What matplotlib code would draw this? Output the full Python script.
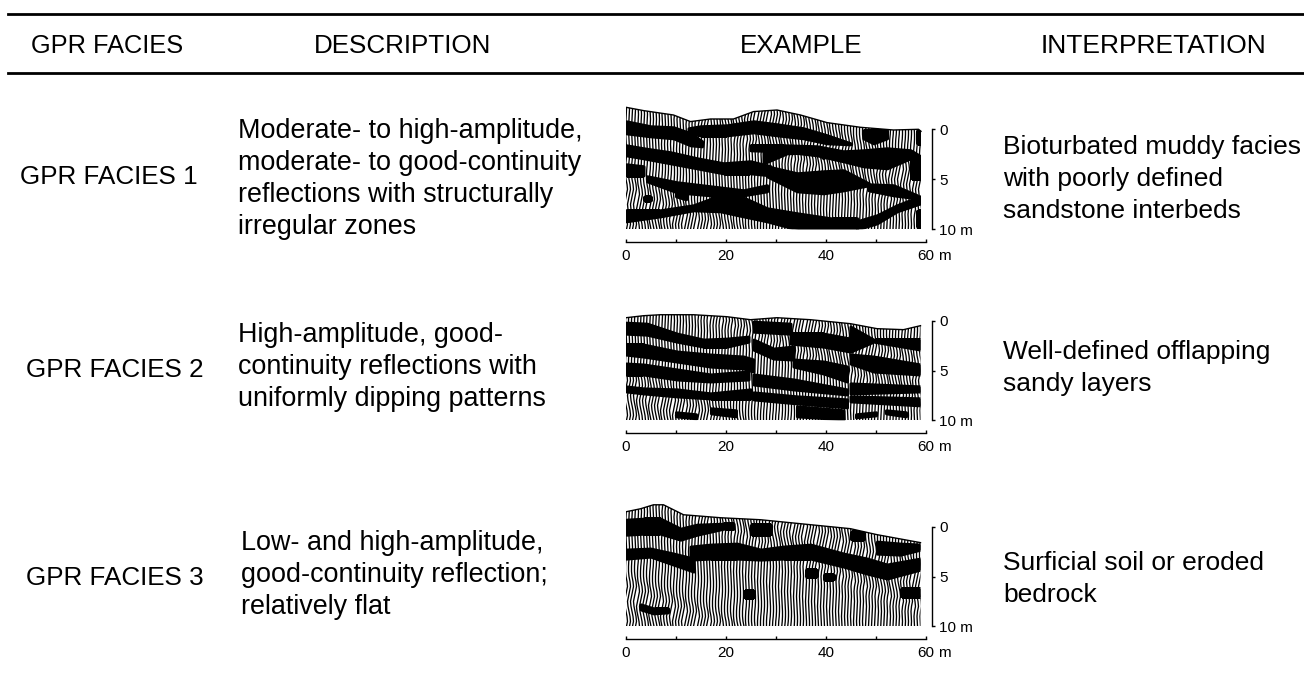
import numpy as np
import matplotlib
matplotlib.use('Agg')
import matplotlib.pyplot as plt
from matplotlib.collections import LineCollection

plt.rcParams['font.family'] = ['Liberation Sans', 'DejaVu Sans']

headers = ['GPR FACIES', 'DESCRIPTION', 'EXAMPLE', 'INTERPRETATION']
facies = ['GPR FACIES 1', 'GPR FACIES 2', 'GPR FACIES 3']
descriptions = [
    ['Moderate- to high-amplitude,', 'moderate- to good-continuity', 'reflections with structurally', 'irregular zones'],
    ['High-amplitude, good-', 'continuity reflections with', 'uniformly dipping patterns'],
    ['Low- and high-amplitude,', 'good-continuity reflection;', 'relatively flat'],
]
interpretations = [
    ['Bioturbated muddy facies', 'with poorly defined', 'sandstone interbeds'],
    ['Well-defined offlapping', 'sandy layers'],
    ['Surficial soil or eroded', 'bedrock'],
]

# ground surface of each section: distance (m), depth (m)
surface_x_1 = [0, 3.5, 9.5, 12.9, 16.9, 21.5, 25.5, 30.2, 34.9, 40.2, 46.9, 53.5, 58.5, 59]
surface_d_1 = [-2.2, -1.87, -1.43, -0.77, -1.03, -1.03, -1.77, -1.93, -1.43, -0.67, -0.2, 0.07, 0, 0.2]
surface_x_2 = [0, 3.5, 6.9, 13.5, 20.2, 24.9, 30.2, 36.9, 44.9, 50.2, 55.5, 58.9]
surface_d_2 = [-0.3, -0.5, -0.6, -0.6, -0.4, -0.1, -0.3, -0.1, 0.3, 0.8, 0.9, 0.5]
surface_x_3 = [0, 2.9, 5.5, 7.5, 11.5, 18.9, 26.9, 36.9, 44.9, 50.2, 58.9]
surface_d_3 = [-1.5, -1.8, -2.2, -2.2, -1.2, -0.9, -0.7, -0.2, 0.2, 0.8, 1.6]

# dark reflections: (distance, top depth, bottom depth)
bands_1 = [
    ([0, 4.9, 9.5, 12.9, 15.2], [-0.8, -0.3, -0.2, 0.4, 1.2], [0.4, 0.7, 0.9, 1.6, 1.7]),
    ([12.5, 14.9, 20.2, 25.5, 30.2, 35.5, 40.2, 44.9], [-0.1, -0.3, -0.4, -0.8, -0.5, -0.1, 0.6, 1.4], [0.4, 0.6, 0.6, 0.3, 0.6, 0.9, 1.4, 1.5]),
    ([0, 3.5, 8.9, 14.2, 19.5, 24.9, 28.9], [1.6, 1.9, 2.3, 2.9, 3.4, 3.2, 3.7], [2.6, 2.9, 3.4, 3.9, 4.4, 4.4, 4.6]),
    ([28.2, 34.2, 39.5, 43.5, 48.5], [3.7, 4.4, 4.2, 4.1, 5.4], [4.7, 6.2, 6.4, 6.1, 5.6]),
    ([27.5, 32.2, 38.2, 39.5], [1.9, 2.1, 2.1, 2.6], [3.4, 2.4, 2.3, 2.9]),
    ([24.9, 31.5, 38.2, 43.5, 47.5, 52.2, 56.9, 58.9], [1.6, 1.6, 1.7, 2.2, 2.1, 1.9, 2.1, 2.7], [2.1, 2.2, 2.6, 3.2, 3.7, 3.9, 2.9, 4.9]),
    ([47.5, 49.5, 52.2], [0.1, 0.1, 0.1], [0.9, 1.4, 0.9]),
    ([0, 3.5], [3.5, 3.7], [4.6, 4.6]),
    ([4.2, 10.2, 16.9, 23.5, 28.2], [4.7, 5.3, 5.7, 6.1, 5.6], [5.2, 6.3, 6.6, 6.6, 6.2]),
    ([48.5, 53.5, 58.2], [5.5, 5.6, 6.6], [6.1, 6.6, 6.9]),
    ([0, 6.9, 13.5, 18.9, 22.5, 28.2, 34.2, 40.9, 46.2], [8.1, 8.1, 7.6, 6.6, 6.6, 7.9, 8.4, 8.9, 8.9], [9.2, 8.7, 8.1, 8.2, 8.6, 9.2, 10, 10, 10]),
    ([46.2, 50.2, 54.2, 58.9], [9.2, 8.6, 7.6, 6.7], [10, 9.4, 8.2, 7.4]),
    ([58.2, 59], [0.2, 0.2], [1.4, 1.4]),
    ([56.9, 59], [2.9, 2.9], [4.9, 4.9]),
    ([58.2, 59], [8.2, 8.2], [9.7, 9.7]),
    ([10, 12], [6.3, 6.5], [6.7, 7]),
    ([3.5, 5], [6.8, 6.8], [7.1, 7.1]),
]
bands_2 = [
    ([0, 4.2, 10.2, 15.5, 20.2, 24.5], [0.2, 0.3, 1.3, 1.9, 1.8, 1.6], [1.3, 1.4, 2.1, 2.6, 2.6, 2.1]),
    ([0, 3.5, 10.2, 16.9, 23.5, 25.5], [2.4, 2.4, 3.1, 3.4, 3.6, 3.9], [3.4, 3.6, 4.1, 4.6, 4.8, 5.1]),
    ([0, 3.5, 10.2, 16.9, 24.5], [4.3, 4.4, 4.9, 5.4, 5.1], [5.4, 5.4, 5.9, 6.1, 5.9]),
    ([0, 3.5, 10.2, 16.9, 24.9], [6.6, 6.8, 6.9, 7.3, 6.9], [7.1, 7.3, 7.6, 7.8, 7.8]),
    ([25.5, 32.9], [0.1, 0.3], [1.1, 1.3]),
    ([32.9, 39.5, 44.9], [1.3, 1.3, 1.8], [2.3, 2.6, 3.1]),
    ([44.9, 49.5, 58.9], [0.6, 1.9, 1.9], [3.1, 2.1, 2.9]),
    ([25.5, 29.5, 33.5], [1.9, 2.8, 2.6], [2.9, 3.8, 3.9]),
    ([33.5, 39.5, 44.2], [3.9, 4.1, 4.6], [4.6, 5.3, 6.1]),
    ([44.9, 49.5, 58.9], [3.4, 3.6, 4.4], [4.3, 5.1, 5.4]),
    ([25.5, 33.5, 44.2], [5.4, 5.9, 6.9], [6.4, 6.9, 7.4]),
    ([44.9, 58.9], [6.3, 6.6], [7.3, 7.1]),
    ([25.5, 34.2, 44.2], [7.2, 7.6, 7.9], [7.9, 8.3, 8.7]),
    ([34.2, 43.5], [8.6, 9.0], [9.6, 9.9]),
    ([44.9, 58.9], [7.6, 7.8], [8.1, 8.5]),
    ([10, 14], [9.2, 9.4], [9.6, 9.8]),
    ([17, 22], [8.8, 9], [9.3, 9.6]),
    ([46, 50], [9.4, 9.2], [9.7, 9.5]),
    ([52, 56], [9, 9.2], [9.3, 9.6]),
]
bands_3 = [
    ([0, 3.5, 6.9, 10.9, 14.2, 19.5, 21.5], [-0.7, -0.8, -0.8, 0.2, -0.2, -0.3, -0.3], [0.8, 0.7, 0.7, 1.3, 0.8, 0.2, 0.2]),
    ([12.9, 16.9, 22.2, 26.9, 31.5, 36.9, 43.5, 48.2, 52.2, 58.9], [2, 1.8, 1.7, 2.3, 2, 1.8, 2.7, 3.2, 3.8, 3.2], [3.3, 3.2, 3.2, 3.3, 3.2, 3.2, 4, 4.7, 5.2, 4.3]),
    ([0, 4.9, 9.5, 13.5], [2.3, 2.2, 2.7, 3.2], [3.2, 3, 3.8, 4.5]),
    ([50.2, 54.9, 58.9], [1.5, 1.7, 1.8], [2.7, 2.8, 2.3]),
    ([24.9, 28.9], [-0.2, -0.2], [0.7, 0.7]),
    ([44.9, 47.5], [0.5, 0.5], [1.2, 1.2]),
    ([36, 38.2], [4.3, 4.3], [4.9, 4.9]),
    ([39.5, 41.5], [4.8, 4.8], [5.3, 5.3]),
    ([23.5, 25.5], [6.5, 6.5], [7.1, 7.1]),
    ([2.9, 5.5, 8.4], [7.8, 8.2, 8.2], [8.3, 8.7, 8.6]),
    ([54.9, 58.9], [6.3, 6.3], [7, 7]),
]

# sideways swing of a trace, read by eye at half metre steps from -3 m down
swing = [0, .05, .1, .05, 0, -.05, -.1, -.05, 0, .05, .1, .1, .05, -.05, -.1, -.1, 0, .2, .3, .1, -.1, -.3, -.2, 0, .2, .3, .1]
swing_depth = [-3, -2.5, -2, -1.5, -1, -.5, 0, .5, 1, 1.5, 2, 2.5, 3, 3.5, 4, 4.5, 5, 5.5, 6, 6.5, 7, 7.5, 8, 8.5, 9, 9.5, 10]

sections = [
    (surface_x_1, surface_d_1, bands_1, 129.3, 229.3),
    (surface_x_2, surface_d_2, bands_2, 320.7, 420.3),
    (surface_x_3, surface_d_3, bands_3, 526.7, 626.3),
]

W, H = 1304, 683
fig = plt.figure(figsize=(W / 100, H / 100), dpi=100)
base = fig.add_axes([0, 0, 1, 1])
base.set_xlim(0, W)
base.set_ylim(H, 0)
base.axis('off')

base.plot([8, W], [14, 14], color='k', lw=2)
base.plot([8, W], [73, 73], color='k', lw=2)

for label, x, size in zip(headers, [31, 314, 740, 1041], [18.3, 18.7, 18.7, 19]):
    base.text(x, 46, label, fontsize=size, ha='left', va='center')
for label, x, y in zip(facies, [20, 26, 26], [177, 370, 578]):
    base.text(x, y, label, fontsize=18.7, ha='left', va='center')
for lines, x, y in zip(descriptions, [238, 238, 241], [131, 335, 543]):
    for i, line in enumerate(lines):
        base.text(x, y + i * 32, line, fontsize=19.4, ha='left', va='center')
for lines, y in zip(interpretations, [147, 352, 563]):
    for i, line in enumerate(lines):
        base.text(1003, y + i * 32, line, fontsize=19, ha='left', va='center')

for surface_x, surface_d, bands, y0, y10 in sections:
    top_px = y0 - 3 * (y10 - y0) / 10
    ax = fig.add_axes([626 / W, 1 - y10 / H, 300 / W, (y10 - top_px) / H])
    ax.set_xlim(0, 60)
    ax.set_ylim(10, -3)
    ax.patch.set_visible(False)

    # outline of the section, used to clip the traces
    poly_x = list(surface_x) + [surface_x[-1], 0]
    poly_d = list(surface_d) + [10, 10]
    outline = ax.fill(poly_x, poly_d, facecolor='white', edgecolor='none')[0]

    traces = []
    for i, tx in enumerate(np.arange(0, 59.2, 0.6)):
        wiggle = np.roll(swing, i // 4)
        traces.append(np.column_stack([tx + np.array(wiggle), swing_depth]))
    lc = LineCollection(traces, colors='k', linewidths=0.95)
    ax.add_collection(lc)
    lc.set_clip_path(outline)

    for bx, btop, bbot in bands:
        band = ax.fill_between(bx, btop, bbot, facecolor='k', edgecolor='k', lw=2.2, joinstyle='round')
        band.set_clip_path(outline)
    ax.plot(surface_x, surface_d, color='k', lw=1.0)

    for side in ['top', 'left']:
        ax.spines[side].set_visible(False)
    ax.spines['right'].set_position(('outward', 4))
    ax.spines['right'].set_bounds(0, 10)
    ax.spines['bottom'].set_position(('outward', 9.5))
    ax.spines['bottom'].set_bounds(0, 60)
    ax.spines['right'].set_linewidth(1.0)
    ax.spines['bottom'].set_linewidth(1.0)

    ax.yaxis.tick_right()
    ax.set_yticks([0, 5, 10], ['0', '5', '10 m'])
    ax.set_xticks(range(0, 70, 10), ['0', '', '20', '', '40', '', '60'])
    ax.tick_params(axis='y', direction='out', length=2.5, width=1.0, pad=3, labelsize=11)
    ax.tick_params(axis='x', direction='in', length=2.5, width=1.0, pad=5, labelsize=11)
    ax.annotate('m', xy=(60, 0), xycoords=ax.get_xaxis_transform(), xytext=(9, -14.5),
                textcoords='offset points', fontsize=11, ha='left', va='top', annotation_clip=False)

fig.savefig('out.png', dpi=100)
